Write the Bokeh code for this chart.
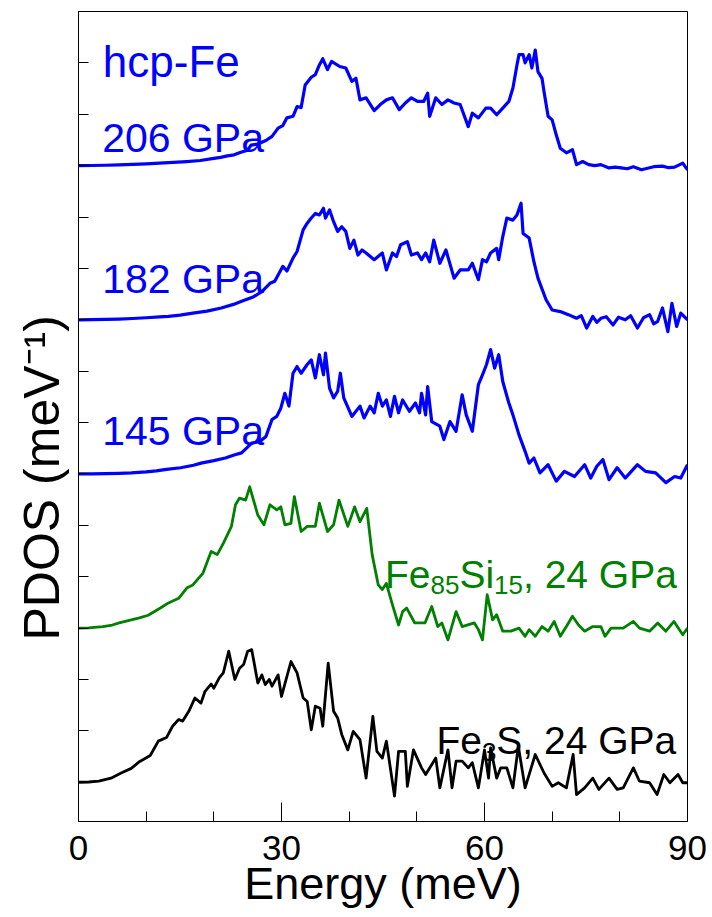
from bokeh.plotting import figure
from bokeh.models import Range1d, FixedTicker, Label, Title
from bokeh.embed import file_html
from bokeh.resources import INLINE

# ---- data (PDOS in tick units, energies in meV) ----
E_206 = [0,2,4,6,8,10,12,14,16,18,20,21,22,23,24,25,25.5,26.5,27.7,28.6,29.5,30.2,30.8,31.7,32.3,32.9,33.5,34.4,35.0,35.6,
         36.1,36.8,37.4,38.6,39.5,40.4,41.0,41.6,42.5,43.7,44.6,45.5,46.4,47.4,48.3,49.2,50.1,51.0,51.6,51.9,
         52.8,53.7,54.6,55.5,56.4,57.6,58.2,59.1,60.2,60.9,61.8,62.7,63.6,64.2,64.8,65.1,65.7,66.0,66.6,67.0,
         67.5,67.9,68.5,68.8,69.4,70.0,70.6,71.2,72.1,73.0,73.6,74.5,75.4,76.3,77.2,78.4,79.3,80.2,81.1,82.0,
         83.2,84.1,85.0,86.3,87.2,88.1,89.3,90]
P_206 = [0,0.003,0.008,0.015,0.025,0.035,0.05,0.065,0.08,0.10,0.14,0.16,0.19,0.21,0.26,0.30,0.40,0.42,0.49,0.57,
         0.73,0.78,0.93,0.96,1.15,1.13,1.57,1.72,1.77,1.96,2.08,1.87,2.03,1.93,1.90,1.64,1.70,1.28,1.32,1.07,
         1.19,1.28,1.32,1.09,1.22,1.32,1.25,1.25,1.41,0.96,1.32,1.19,1.28,1.22,1.19,0.76,1.02,0.93,1.12,1.12,
         0.99,1.12,1.25,1.51,1.96,2.16,2.16,2.00,2.16,1.90,2.25,1.83,1.70,1.44,0.96,0.89,0.60,0.34,0.25,0.31,
         0.02,0.08,0.02,0.0,0.02,-0.045,-0.03,-0.045,-0.06,-0.02,-0.08,-0.05,-0.02,-0.01,-0.04,-0.03,0.05,-0.08]

E_182 = [0,2,4,6,8,10,12,13.3,15,16.9,19,21.1,22.9,24.1,25.9,27.1,28.3,29.0,30.2,30.8,31.7,32.3,33.2,33.8,34.4,
         35.0,35.6,36.2,36.5,37.1,37.7,38.3,38.9,39.5,40.1,40.7,41.3,41.9,42.5,43.7,44.9,45.5,46.4,47.0,47.6,
         48.6,49.2,50.1,50.7,51.3,51.9,52.5,53.4,54.3,55.5,56.4,57.6,58.2,59.1,59.7,60.3,60.9,61.8,62.1,62.7,
         63.3,64.2,64.8,65.4,65.7,66.6,67.3,67.9,69.1,70.0,71.2,72.4,73.6,74.3,75.1,76.0,76.6,77.2,78.0,79.0,
         79.8,80.8,81.6,82.6,83.5,84.4,85.0,85.6,86.3,87.1,87.7,88.4,89.0,90]
P_182 = [0,0.003,0.008,0.015,0.025,0.04,0.055,0.065,0.09,0.13,0.17,0.23,0.30,0.36,0.45,0.55,0.71,0.75,1.04,0.95,1.20,1.33,1.75,1.88,1.98,
         2.07,2.04,2.17,1.98,2.14,1.91,1.72,1.81,1.72,1.39,1.55,1.26,1.36,1.30,1.17,1.30,0.97,1.30,1.23,1.46,
         1.52,1.26,1.30,1.17,1.30,1.13,1.55,1.10,1.36,0.81,0.97,0.97,1.10,0.78,1.17,1.13,1.30,1.39,1.17,1.62,
         1.98,1.94,2.04,2.27,1.68,1.59,1.13,0.81,0.39,0.19,0.16,0.10,0.03,0.08,-0.16,0.065,-0.05,0.03,0.06,-0.10,
         0.05,0,0.08,-0.16,0.04,0.10,-0.08,-0.03,0.23,-0.23,0.32,-0.13,0.13,0]

E_145 = [0,2,4,6,7.8,10,11.5,13,15.1,17,18.1,20,21.7,23,24.1,25.6,26.8,27.7,28.6,29.3,29.9,30.5,31.1,31.7,32.3,32.9,33.8,
         34.4,35.0,35.6,36.2,36.5,37.1,37.7,38.3,38.7,39.2,40.4,41.6,42.2,43.1,43.7,44.3,44.9,45.5,46.1,46.7,
         47.3,47.9,48.9,49.8,50.4,50.7,51.3,51.6,52.2,53.4,54.0,54.9,55.8,56.7,57.3,58.2,59.1,59.7,60.3,60.9,
         61.5,62.1,62.7,63.6,64.2,65.1,66.0,66.6,67.3,68.2,69.4,70.6,71.8,73.3,74.8,75.7,76.6,77.5,78.4,79.6,
         80.8,82.6,83.8,85.3,86.8,88.1,89.0,90]
P_145 = [0,0.002,0.008,0.013,0.02,0.04,0.06,0.09,0.12,0.17,0.21,0.26,0.31,0.37,0.41,0.60,0.63,0.73,1.06,1.12,1.28,1.57,1.32,1.96,2.09,1.96,2.13,
         2.22,1.87,2.32,1.93,2.35,1.67,1.48,1.61,1.96,1.48,1.12,1.32,1.09,1.32,1.19,1.57,1.32,1.44,1.12,1.51,
         1.19,1.44,1.22,1.38,1.19,1.57,1.15,1.70,1.02,0.93,0.67,1.02,0.83,1.54,1.15,0.83,1.74,1.93,2.13,2.42,
         2.06,2.32,1.80,1.38,1.15,0.76,0.44,0.21,0.31,0.02,0.18,-0.14,0.05,-0.05,0.18,-0.08,0.15,0.28,-0.11,0.12,
         -0.08,0.18,0.05,0.02,-0.17,-0.05,-0.08,0.18]

E_SI = [0,1.5,3.6,5.0,6.0,7.8,9.0,10.3,12.1,13.3,14.8,16.0,16.9,18.4,19.6,20.5,21.4,22.6,23.2,23.8,24.7,25.3,26.5,
        27.4,28.3,29.3,29.9,30.5,31.4,31.9,32.9,33.8,35.0,35.6,36.8,37.7,38.5,39.8,40.8,41.6,42.6,43.4,44.3,
        44.9,45.5,46.4,47.3,47.9,48.5,49.7,51.2,52.2,53.1,53.7,54.6,55.8,56.7,58.5,59.1,59.7,60.4,61.2,61.8,
        62.7,63.9,65.1,66.0,66.6,67.5,68.5,69.4,70.3,71.2,72.1,73.0,73.9,74.8,76.0,77.2,77.8,78.7,80.5,82.0,
        82.9,84.4,85.6,86.8,88.0,89.3,90]
P_SI = [0,0.005,0.03,0.06,0.10,0.16,0.20,0.25,0.39,0.49,0.58,0.78,0.84,1.07,1.49,1.43,1.65,1.98,2.40,2.53,2.49,2.75,2.20,
        2.01,2.40,2.30,2.36,2.01,2.04,2.56,1.88,1.98,1.98,2.43,1.88,2.01,2.49,1.98,2.36,2.07,2.33,1.43,0.84,
        0.75,0.87,0.45,0.06,0.32,0.39,0.10,0.10,0.42,0.03,0.10,-0.23,0.32,0.03,0.10,-0.03,-0.23,0.65,0.16,0.26,
        -0.06,-0.06,0,-0.16,-0.03,-0.16,0.03,-0.06,0.13,-0.16,0.03,0.23,0.06,-0.06,0.03,0.03,-0.16,0,0,0.13,
        0,-0.06,0.10,-0.06,0.13,-0.13,0]

E_S = [0,1.5,3.0,4.8,6.3,7.8,9.0,10.6,11.8,13.0,13.9,14.8,15.4,16.3,17.2,18.1,18.7,19.6,20.0,20.8,21.4,
       22.2,23.1,23.8,24.4,25.0,25.6,26.5,27.1,27.6,28.2,28.6,29.5,30.0,31.4,32.3,33.2,33.8,34.4,35.0,35.7,
       36.1,36.9,37.7,38.3,38.9,39.8,40.6,41.6,42.5,43.5,44.1,44.9,45.5,46.7,47.3,48.3,48.6,49.5,50.7,51.3,
       52.8,53.4,54.6,55.2,55.8,56.7,57.6,58.2,59.1,60.0,60.6,60.9,61.8,62.4,63.3,64.2,65.0,66.0,67.5,68.8,
       70.0,70.9,72.1,73.1,73.6,74.8,76.0,76.9,78.4,79.6,80.5,82.0,82.9,84.4,85.5,86.5,87.4,88.6,89.3,90]
P_S = [0,0.005,0.02,0.08,0.18,0.27,0.40,0.52,0.80,0.87,1.09,1.22,1.19,1.38,1.64,1.54,1.77,1.91,1.83,2.03,2.13,
       2.55,2.00,2.22,2.29,2.55,2.58,1.93,2.09,1.90,2.00,1.87,2.09,1.67,2.35,2.13,1.64,1.57,1.02,1.48,1.44,
       1.09,2.32,1.38,1.25,0.93,0.63,0.99,0.83,0.08,1.28,0.60,0.47,0.80,-0.27,0.60,0.60,-0.08,0.63,0.28,0.15,
       0.47,-0.11,0.63,-0.11,0.41,0.41,0.28,0.38,-0.11,0.63,0.08,0.67,0.08,0.28,0.28,-0.11,0.70,-0.11,0.54,0.18,
       -0.08,-0.01,-0.11,0.54,-0.24,-0.11,0.08,-0.14,0.08,-0.14,-0.11,0.28,0.02,-0.01,-0.24,0.15,-0.01,0.15,-0.01,-0.01]

OFFSETS = [12, 9, 6, 3, 0]
PRESSURES = ["206 GPa", "182 GPa", "145 GPa"]
X_TICKS = [0, 30, 60, 90]
X_MINOR = [10, 20, 40, 50, 70, 80]
Y_TICKS = list(range(0, 16))

series = [(E_206, P_206), (E_182, P_182), (E_145, P_145), (E_SI, P_SI), (E_S, P_S)]
BLUE, GREEN, BLACK = "#0000ff", "#008000", "#000000"
colors = [BLUE, BLUE, BLUE, GREEN, BLACK]
widths = [3.2, 3.2, 3.2, 2.8, 2.8]

FONT = "Liberation Sans"

p = figure(width=712, height=917, x_range=Range1d(0, 90), y_range=Range1d(-0.764, 15),
           output_backend="svg", toolbar_location=None,
           min_border_left=78, min_border_right=25, min_border_top=11, min_border_bottom=96)
p.grid.visible = False
p.outline_line_color = "black"
p.outline_line_width = 1
p.background_fill_color = "white"
p.border_fill_color = "white"

for (ex, py), off, c, w in zip(series, OFFSETS, colors, widths):
    p.line(ex, [v + off for v in py], line_color=c, line_width=w, line_join="round")

# x axis
xa = p.xaxis[0]
xa.ticker = FixedTicker(ticks=X_TICKS, minor_ticks=X_MINOR)
xa.major_tick_in = 19
xa.major_tick_out = 0
xa.minor_tick_in = 10
xa.minor_tick_out = 0
xa.major_tick_line_color = "black"
xa.minor_tick_line_color = "black"
xa.axis_line_color = "black"
xa.major_label_text_font = FONT
xa.major_label_text_font_size = "35px"
xa.major_label_text_color = "black"
xa.major_label_standoff = 14
xa.axis_label = "Energy (meV)"
xa.axis_label_text_font = FONT
xa.axis_label_text_font_size = "45px"
xa.axis_label_text_font_style = "normal"
xa.axis_label_text_color = "black"
xa.axis_label_standoff = -5

# y axis
ya = p.yaxis[0]
ya.ticker = FixedTicker(ticks=Y_TICKS, minor_ticks=[])
ya.major_tick_in = 10
ya.major_tick_out = 0
ya.minor_tick_in = 0
ya.minor_tick_out = 0
ya.major_tick_line_color = "black"
ya.axis_line_color = "black"
ya.major_label_overrides = {t: "" for t in Y_TICKS}
ya.major_label_text_font_size = "1px"
ya.major_label_standoff = 0

p.add_layout(Title(text="PDOS (meV\u207b\u00b9)", align="left", offset=181,
                   text_font=FONT, text_font_size="50px", text_font_style="normal",
                   text_color="black", standoff=17), "left")

# annotations
p.add_layout(Label(x=3.6, y=14.03, text="hcp-Fe", text_font=FONT, text_font_size="44px",
                   text_color=BLUE, text_align="left", text_baseline="alphabetic"))
for name, ly in zip(PRESSURES, [12.54, 9.79, 6.84]):
    p.add_layout(Label(x=3.5, y=ly, text=name, text_font=FONT, text_font_size="41px",
                       text_color=BLUE, text_align="left", text_baseline="alphabetic"))

# chemical formulas with subscripts: (text, is_subscript) pieces
def formula(parts, x0, y0, color, big=39, small=26, drop=11):
    adv = {"F": 0.611, "e": 0.556, "S": 0.667, "i": 0.222, ",": 0.278, " ": 0.278,
           "G": 0.778, "P": 0.667, "a": 0.556}
    off = 0.0
    for txt, sub in parts:
        size = small if sub else big
        p.add_layout(Label(x=x0, y=y0, x_offset=off, y_offset=-drop if sub else 0, text=txt,
                           text_font=FONT, text_font_size=f"{size}px", text_color=color,
                           text_align="left", text_baseline="alphabetic"))
        off += sum(adv.get(ch, 0.556) for ch in txt) * size

formula([("Fe", False), ("85", True), ("Si", False), ("15", True), (", 24 GPa", False)], 45.29, 4.05, GREEN)
formula([("Fe", False), ("3", True), ("S, 24 GPa", False)], 52.89, 0.81, BLACK)

open("out.html", "w").write(file_html(p, INLINE))
